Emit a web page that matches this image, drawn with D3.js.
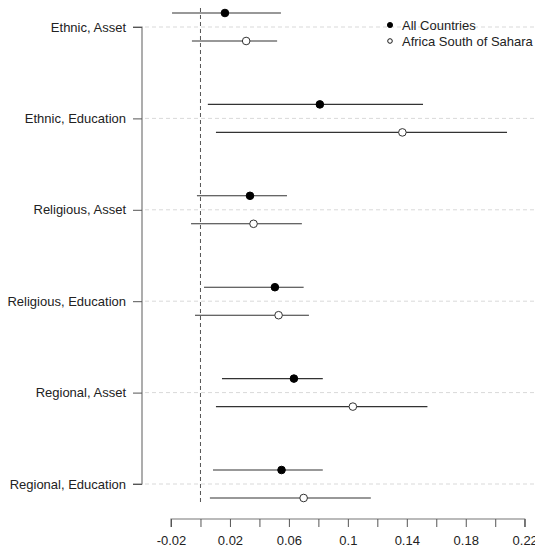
<!DOCTYPE html>
<html>
<head>
<meta charset="utf-8">
<script src="https://cdn.jsdelivr.net/npm/d3@7"></script>
<style>
  html, body { margin: 0; padding: 0; background: #fff; }
  svg { display: block; font-family: "Liberation Sans", Arial, sans-serif; }
</style>
</head>
<body>
<svg id="chart" width="535" height="549"></svg>
<script>
// Fractionalization measures (rows of the plot, top to bottom)
const categories = [
  "Ethnic, Asset", "Ethnic, Education",
  "Religious, Asset", "Religious, Education",
  "Regional, Asset", "Regional, Education"
];
const seriesNames = ["All Countries", "Africa South of Sahara"];

// Point estimates and confidence bounds per category
const allEst   = [0.0166, 0.081, 0.0336, 0.0505, 0.0634, 0.055];
const allLow   = [-0.0193, 0.005, -0.0024, 0.0024, 0.0146, 0.0085];
const allHigh  = [0.0546, 0.151, 0.0587, 0.070, 0.083, 0.083];
const afrEst   = [0.031, 0.137, 0.036, 0.053, 0.1034, 0.070];
const afrLow   = [-0.0058, 0.0105, -0.0064, -0.0037, 0.0105, 0.0064];
const afrHigh  = [0.052, 0.208, 0.0688, 0.0736, 0.154, 0.1156];

const xTicks = [-0.02, 0, 0.02, 0.04, 0.06, 0.08, 0.1, 0.12, 0.14, 0.16, 0.18, 0.2, 0.22];
const xTickLabels = ["-0.02", "", "0.02", "", "0.06", "", "0.1", "", "0.14", "", "0.18", "", "0.22"];

const svg = d3.select("#chart");
const textColor = "#222";
const fontSize = 13;

const x = d3.scaleLinear().domain([-0.02, 0.22]).range([171, 524.7]);
const y = d3.scalePoint().domain(categories).range([27, 484]);
const offset = 14;

// Dashed horizontal guides at each category
svg.append("g").selectAll("line").data(categories).join("line")
  .attr("x1", 145).attr("x2", 535)
  .attr("y1", d => y(d)).attr("y2", d => y(d))
  .attr("stroke", "#d9d9d9").attr("stroke-dasharray", "4,3");

// Reference line at zero
svg.append("line")
  .attr("x1", x(0)).attr("x2", x(0))
  .attr("y1", 8).attr("y2", 504)
  .attr("stroke", "#555").attr("stroke-dasharray", "4,3");

// Y axis on the left
const yAxis = d3.axisLeft(y).tickSize(9).tickPadding(7);
const gy = svg.append("g").attr("transform", "translate(142,0)").call(yAxis);
gy.select(".domain").attr("stroke", "#777").attr("stroke-width", 1.2)
  .attr("d", `M-9,${y(categories[0])}H0V${y(categories[categories.length - 1])}H-9`);
gy.selectAll(".tick line").attr("stroke", "#555");
gy.selectAll(".tick text").attr("fill", textColor).attr("font-size", fontSize)
  .attr("font-family", "Liberation Sans, Arial, sans-serif");

// X axis at the bottom
const xAxis = d3.axisBottom(x).tickValues(xTicks)
  .tickFormat((d, i) => xTickLabels[i]).tickSize(8).tickPadding(9).tickSizeOuter(0);
const gx = svg.append("g").attr("transform", "translate(0,519)").call(xAxis);
gx.select(".domain").attr("stroke", "#777").attr("stroke-width", 1.2)
  .attr("d", `M${x(-0.02)},8V0H${x(0.22)}V8`);
gx.selectAll(".tick line").attr("stroke", "#555");
gx.selectAll(".tick text").attr("fill", textColor).attr("font-size", fontSize)
  .attr("font-family", "Liberation Sans, Arial, sans-serif");

// Interval rows
const rows = categories.map((c, i) => [
  { cat: c, dy: -offset, est: allEst[i], lo: allLow[i], hi: allHigh[i], filled: true },
  { cat: c, dy: offset, est: afrEst[i], lo: afrLow[i], hi: afrHigh[i], filled: false }
]).flat();

const g = svg.append("g");
g.selectAll("line.ci").data(rows).join("line").attr("class", "ci")
  .attr("x1", d => x(d.lo)).attr("x2", d => x(d.hi))
  .attr("y1", d => y(d.cat) + d.dy).attr("y2", d => y(d.cat) + d.dy)
  .attr("stroke", "#333").attr("stroke-width", 1.1);
g.selectAll("circle").data(rows).join("circle")
  .attr("cx", d => x(d.est)).attr("cy", d => y(d.cat) + d.dy)
  .attr("r", 3.8)
  .attr("fill", d => d.filled ? "#000" : "#fff")
  .attr("stroke", d => d.filled ? "#000" : "#333").attr("stroke-width", 1);

// Legend
const legend = svg.append("g").attr("transform", "translate(390,25)");
seriesNames.forEach((name, i) => {
  const row = legend.append("g").attr("transform", `translate(0,${i * 16})`);
  row.append("circle").attr("r", i === 0 ? 2.6 : 2.3)
    .attr("fill", i === 0 ? "#000" : "#fff").attr("stroke", "#000").attr("stroke-width", 0.9);
  row.append("text").attr("x", 12).attr("y", 4.5)
    .attr("font-size", fontSize).attr("fill", textColor).text(name);
});
</script>
</body>
</html>
